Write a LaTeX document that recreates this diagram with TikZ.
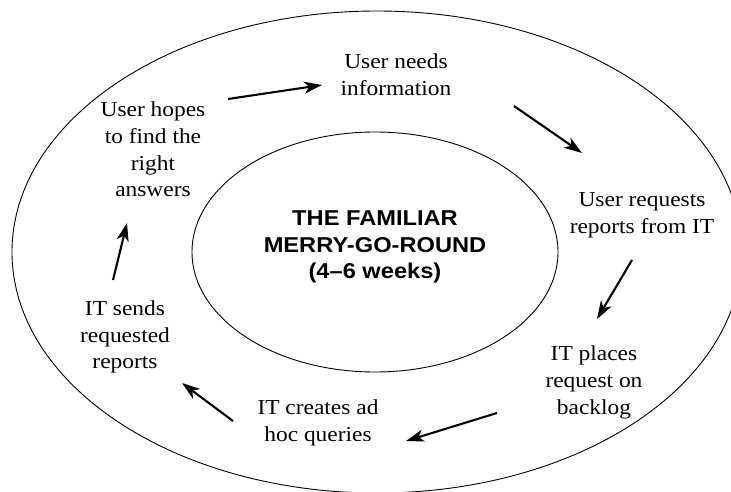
\documentclass[tikz,border=0pt]{standalone}
\usepackage{fontspec}
\setmainfont{Liberation Serif}[FakeStretch=1.1]
\newfontfamily\headfont{Liberation Sans}[FakeStretch=1.1]
\usetikzlibrary{shapes.geometric, arrows.meta}

\begin{document}
\begin{tikzpicture}[x=1pt, y=-1pt]
\tikzstyle{every node}=[align=center, inner sep=0pt, font=\fontsize{21.3}{26.8}\selectfont]
\tikzstyle{ring}=[draw, ellipse, line width=0.9pt, inner sep=0pt]
\tikzstyle{every edge}=[draw, -{Stealth[length=18pt,width=12pt,inset=5pt]}, line width=2.1pt]

\useasboundingbox (0,0) rectangle (731,492);
\clip (0,0) rectangle (731,492);

\node[ring, minimum width=730pt, minimum height=482pt] at (377,252) (outer) {};
\node[ring, minimum width=366pt, minimum height=240pt] at (375,252) (inner) {};
\node[font=\headfont\bfseries\fontsize{21.5}{26.5}\selectfont] at (375,247) (title)
  {THE FAMILIAR\\MERRY-GO-ROUND\\(4–6 weeks)};

\node at (153,149.5) (hopes) {User hopes\\to find the\\right\\answers};
\node at (396,75) (needs) {User needs\\information};
\node at (642,215) (asks) {User requests\\reports from IT};
\node at (594,382.5) (backlog) {IT places\\request on\\backlog};
\node at (318,423) (queries) {IT creates ad\\hoc queries};
\node at (125,337) (sends) {IT sends\\requested\\reports};

% arrow ends between the stages
\coordinate (hopes-out) at (228,99);   \coordinate (needs-in) at (322,85);
\coordinate (needs-out) at (514,106);  \coordinate (asks-in) at (582,153);
\coordinate (asks-out) at (632,260);   \coordinate (backlog-in) at (597,319);
\coordinate (backlog-out) at (497,413);\coordinate (queries-in) at (406,441);
\coordinate (queries-out) at (233,421);\coordinate (sends-in) at (182,383);
\coordinate (sends-out) at (113,280);  \coordinate (hopes-in) at (127,223);

\draw (hopes-out) edge (needs-in)
      (needs-out) edge (asks-in)
      (asks-out) edge (backlog-in)
      (backlog-out) edge (queries-in)
      (queries-out) edge (sends-in)
      (sends-out) edge (hopes-in);
\end{tikzpicture}
\end{document}
